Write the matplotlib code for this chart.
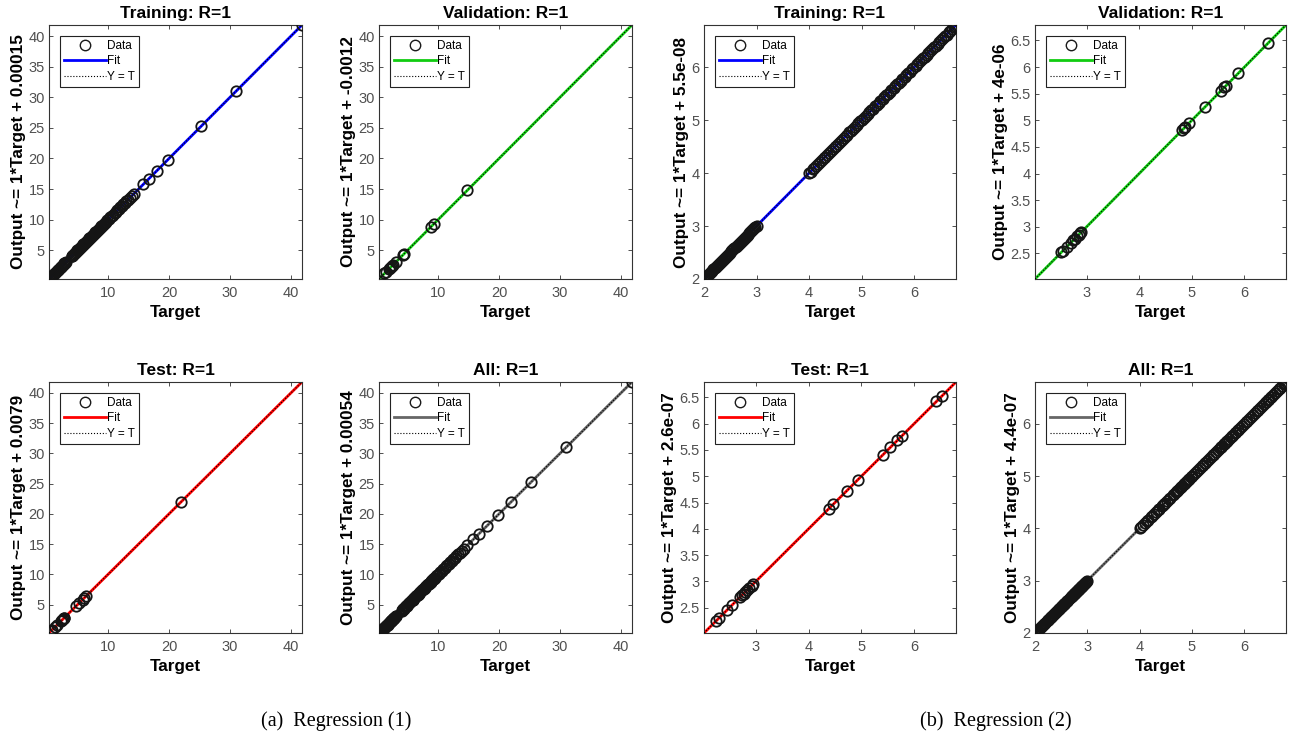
import numpy as np
import matplotlib
matplotlib.use('Agg')
import matplotlib.pyplot as plt
from matplotlib.lines import Line2D
from matplotlib.ticker import FormatStrFormatter

# --------------------------------------------------------------------------- #
# Regression (1): network targets for each data split (outputs match, R = 1)
train1 = [0.30, 0.42, 0.55, 0.68, 0.80, 0.93, 1.06, 1.19, 1.31, 1.44, 1.57,
          1.70, 1.82, 1.95, 2.08, 2.21, 2.33, 2.46, 2.59, 2.72, 2.84, 2.97,
          3.05,
          4.00, 4.13, 4.27, 4.41, 4.55, 4.70, 4.83, 4.97, 5.11, 5.26, 5.40,
          5.53, 5.68, 5.82, 5.95, 6.10, 6.24, 6.37, 6.52, 6.66, 6.80, 6.93,
          7.08, 7.22, 7.35, 7.50, 7.64, 7.78, 7.91, 8.06, 8.20, 8.33, 8.48,
          8.62, 8.76, 8.90, 9.04, 9.18, 9.32, 9.46,
          9.65, 9.88, 10.10, 10.35, 10.58, 10.82, 11.05, 11.30, 11.52, 11.78,
          12.02, 12.25, 12.50, 12.76, 13.00, 13.28, 13.55, 13.85, 14.20,
          15.80, 16.70, 18.00, 19.80, 25.30, 31.00, 41.80]
val1 = [1.20, 1.50, 1.90, 2.10, 2.30, 2.40, 2.60, 3.10, 4.20, 4.35, 8.75,
        9.25, 14.80]
test1 = [0.70, 0.85, 1.30, 1.60, 2.30, 2.45, 2.55, 2.70, 2.80, 4.70, 5.30,
         5.80, 6.10, 6.40, 22.00]

# Regression (2)
train2 = [2.00, 2.02, 2.04, 2.06, 2.08, 2.10, 2.12, 2.14, 2.16, 2.18, 2.20,
          2.22, 2.24, 2.26, 2.28, 2.30, 2.32, 2.34, 2.36, 2.38, 2.40, 2.42,
          2.44, 2.46, 2.48, 2.50, 2.52, 2.54, 2.56, 2.58, 2.60, 2.62, 2.64,
          2.66, 2.68, 2.70, 2.72, 2.74, 2.76, 2.78, 2.80, 2.82, 2.84, 2.86,
          2.88, 2.90, 2.92, 2.94, 2.96, 2.98, 3.00,
          4.00, 4.03, 4.07, 4.10, 4.14, 4.17, 4.21, 4.24, 4.28, 4.31, 4.35,
          4.38, 4.42, 4.45, 4.49, 4.52, 4.56, 4.59, 4.63, 4.66, 4.70, 4.73,
          4.77, 4.80, 4.84, 4.87, 4.91, 4.94, 4.98, 5.01, 5.05, 5.08, 5.12,
          5.15, 5.19, 5.22, 5.26, 5.29, 5.33, 5.36, 5.40, 5.43, 5.47, 5.50,
          5.54, 5.57, 5.61, 5.64, 5.68, 5.71, 5.75, 5.78, 5.82, 5.85, 5.89,
          5.92, 5.96, 5.99, 6.03, 6.06, 6.10, 6.13, 6.17, 6.20, 6.24, 6.27,
          6.31, 6.34, 6.38, 6.41, 6.45, 6.48, 6.52, 6.55, 6.59, 6.62, 6.66,
          6.69, 6.73, 6.76, 6.79]
val2 = [2.52, 2.55, 2.62, 2.70, 2.75, 2.78, 2.82, 2.85, 2.88, 2.90, 4.82,
        4.85, 4.88, 4.95, 5.25, 5.55, 5.62, 5.65, 5.88, 6.45]
test2 = [2.25, 2.30, 2.45, 2.55, 2.70, 2.74, 2.77, 2.80, 2.84, 2.88, 2.92,
         2.95, 4.38, 4.47, 4.72, 4.93, 5.40, 5.55, 5.68, 5.77, 6.42, 6.52]

# Fitted intercepts (slope is 1 everywhere): Training, Validation, Test, All
intercepts1 = [0.00015, -0.0012, 0.0079, 0.00054]
intercepts2 = [5.5e-08, 4e-06, 2.6e-07, 4.4e-07]

split_names = ['Training', 'Validation', 'Test', 'All']
fit_colors = ['#0000ff', '#11cc11', '#ff0000', '#666666']

# --------------------------------------------------------------------------- #
plt.rcParams['font.family'] = ['Liberation Sans', 'DejaVu Sans']

W, H = 1294, 738
fig = plt.figure(figsize=(W / 100.0, H / 100.0), dpi=100)


def add_axes_px(left, top, right, bottom):
    return fig.add_axes([left / W, 1 - bottom / H,
                         (right - left) / W, (bottom - top) / H])


def regression_panel(ax, t, b, name, color, lims, xticks, yticks):
    t = np.asarray(t)
    xs = np.array(lims)
    ax.plot(xs, xs + b, '-', color=color, lw=2.0, zorder=2)
    ax.plot(xs, xs, ':', color='k', lw=0.8, zorder=3)
    ax.plot(t, t, 'o', mfc='none', mec='#151515', mew=1.3, ms=7.5, zorder=4)
    ax.set_xlim(lims)
    ax.set_ylim(lims)
    ax.set_xticks(xticks)
    ax.set_yticks(yticks)
    ax.xaxis.set_major_formatter(FormatStrFormatter('%g'))
    ax.yaxis.set_major_formatter(FormatStrFormatter('%g'))
    ax.tick_params(direction='in', length=3, width=0.6, top=True, right=True,
                   labelsize=10.5, labelcolor='#505050', color='#333333')
    ax.tick_params(axis='x', pad=5)
    ax.tick_params(axis='y', pad=3)
    for sp in ax.spines.values():
        sp.set_color('#333333')
        sp.set_linewidth(0.8)
    ax.set_title('%s: R=1' % name, fontsize=12.5, fontweight='bold', pad=5)
    ax.set_xlabel('Target', fontsize=12.3, fontweight='bold', labelpad=4)
    ax.set_ylabel('Output ~= 1*Target + %.2g' % b, fontsize=12.3,
                  fontweight='bold', labelpad=2)
    handles = [Line2D([], [], ls='none', marker='o', mfc='none',
                      mec='#1a1a1a', mew=1.0, ms=7.5),
               Line2D([], [], ls='-', color=color, lw=2.0),
               Line2D([], [], ls=':', color='k', lw=0.8)]
    leg = ax.legend(handles, ['Data', 'Fit', 'Y = T'], loc='upper left',
                    fontsize=8.5, handlelength=3.6, handletextpad=0.1,
                    borderpad=0.35, labelspacing=0.3, borderaxespad=0.9,
                    fancybox=False, framealpha=1.0, edgecolor='#222222')
    leg.get_frame().set_linewidth(0.8)


# Pixel boxes of the eight panels (left, top, right, bottom)
boxes = [(49, 25, 302, 279), (379, 25, 632, 279),
         (704, 25, 956, 279), (1035, 25, 1286, 279),
         (49, 382, 302, 633), (379, 382, 632, 633),
         (704, 382, 956, 633), (1035, 382, 1286, 633)]

all1 = train1 + val1 + test1
all2 = train2 + val2 + test2
sets1 = [train1, val1, test1, all1]
sets2 = [train2, val2, test2, all2]

big_lims = [0.3, 41.8]
big_xt = [10, 20, 30, 40]
big_yt = [5, 10, 15, 20, 25, 30, 35, 40]
small_lims = [2.0, 6.8]
small_lims_b = [2.02, 6.79]
ticks_a = [2, 3, 4, 5, 6]
ticks_b = [3, 4, 5, 6]
ticks_c = [2.5, 3, 3.5, 4, 4.5, 5, 5.5, 6, 6.5]

# split index -> (row, column) within each 2x2 group
grid = [(0, 0), (0, 1), (1, 0), (1, 1)]

for k in range(4):
    r, c = grid[k]
    ax = add_axes_px(*boxes[r * 4 + c])
    regression_panel(ax, sets1[k], intercepts1[k], split_names[k],
                     fit_colors[k], big_lims, big_xt, big_yt)

    ax = add_axes_px(*boxes[r * 4 + c + 2])
    if k in (1, 2):
        regression_panel(ax, sets2[k], intercepts2[k], split_names[k],
                         fit_colors[k], small_lims_b, ticks_b, ticks_c)
    else:
        regression_panel(ax, sets2[k], intercepts2[k], split_names[k],
                         fit_colors[k], small_lims, ticks_a, ticks_a)

# Sub-figure captions
fig.text(336 / W, 1 - 721 / H, '(a)  Regression (1)', ha='center',
         va='center', fontsize=14.5, family='Liberation Serif')
fig.text(996 / W, 1 - 721 / H, '(b)  Regression (2)', ha='center',
         va='center', fontsize=14.5, family='Liberation Serif')

plt.savefig('out.png', dpi=100)
